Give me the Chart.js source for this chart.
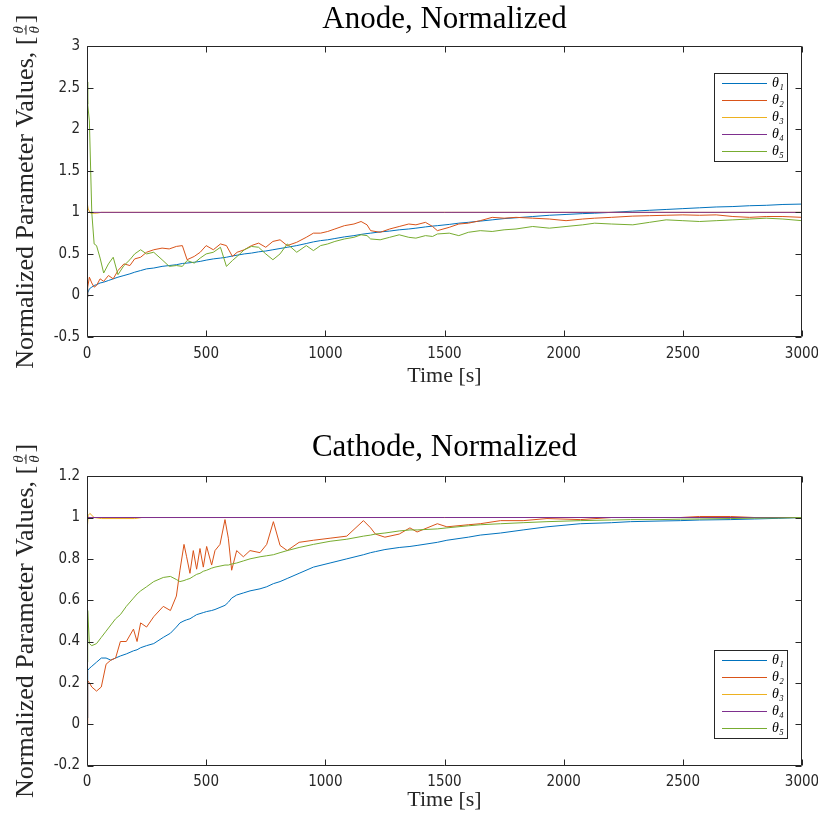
<!DOCTYPE html>
<html>
<head>
<meta charset="utf-8">
<title>Anode / Cathode, Normalized</title>
<script src="https://cdn.jsdelivr.net/npm/chart.js@4.4.1/dist/chart.umd.min.js"></script>
<style>
    body { margin: 0; background: #fff; }
    .panel { position: absolute; left: 0; width: 818px; height: 410px; }
    #anodePanel { top: 0; }
    #cathodePanel { top: 410px; }
</style>
</head>
<body>
<div class="panel" id="anodePanel"><canvas id="anodeChart" width="818" height="410"></canvas></div>
<div class="panel" id="cathodePanel"><canvas id="cathodeChart" width="818" height="410"></canvas></div>
<script>
// Series labels and colours
const thetaLabels = ['θ₁', 'θ₂', 'θ₃', 'θ₄', 'θ₅'];
const thetaColors = ['#0072BD', '#D95319', '#EDB120', '#7E2F8E', '#77AC30'];

// Tick values
const timeTicks = [0, 500, 1000, 1500, 2000, 2500, 3000];
const anodeYTicks = [-0.5, 0, 0.5, 1, 1.5, 2, 2.5, 3];
const cathodeYTicks = [-0.2, 0, 0.2, 0.4, 0.6, 0.8, 1, 1.2];

// Constant series share this time base
const flatTime = [0, 3000];

// Anode data
const anodeTime = [
    0, 3, 10, 20, 30, 40, 55, 70, 90, 110,
    130, 155, 180, 200, 225, 250, 280, 315, 345, 375,
    400, 420, 450, 475, 500, 530, 560, 585, 610, 630,
    660, 690, 720, 750, 780, 810, 840, 880, 920, 950,
    980, 1010, 1040, 1080, 1120, 1150, 1175, 1190, 1230, 1270,
    1310, 1350, 1380, 1420, 1450, 1470, 1520, 1560, 1600, 1650,
    1700, 1750, 1800, 1870, 1940, 2010, 2080, 2130, 2200, 2290,
    2360, 2430, 2500, 2570, 2640, 2710, 2780, 2850, 2920, 3000
];
const anodeTheta1 = [
    -0.02, 0.03, 0.08, 0.10, 0.12, 0.13, 0.15, 0.16, 0.18, 0.20,
    0.22, 0.24, 0.26, 0.28, 0.30, 0.32, 0.33, 0.35, 0.36, 0.37,
    0.385, 0.39, 0.40, 0.41, 0.425, 0.44, 0.45, 0.46, 0.475, 0.485,
    0.50, 0.51, 0.525, 0.535, 0.55, 0.565, 0.58, 0.60, 0.625, 0.645,
    0.66, 0.67, 0.685, 0.705, 0.72, 0.735, 0.745, 0.75, 0.765, 0.775,
    0.79, 0.80, 0.81, 0.825, 0.835, 0.84, 0.855, 0.87, 0.88, 0.895,
    0.91, 0.925, 0.935, 0.95, 0.965, 0.975, 0.985, 0.99, 1.00, 1.015,
    1.025, 1.035, 1.045, 1.055, 1.065, 1.07, 1.08, 1.085, 1.095, 1.10
];
const anodeTheta2 = [
    -0.02, 0.10, 0.22, 0.15, 0.10, 0.12, 0.20, 0.17, 0.24, 0.20,
    0.30, 0.38, 0.36, 0.44, 0.46, 0.52, 0.55, 0.57, 0.56, 0.59,
    0.60, 0.43, 0.47, 0.52, 0.60, 0.55, 0.62, 0.60, 0.47, 0.52,
    0.55, 0.60, 0.63, 0.58, 0.65, 0.67, 0.60, 0.64, 0.70, 0.75,
    0.75, 0.77, 0.80, 0.84, 0.86, 0.89, 0.85, 0.78, 0.76, 0.80,
    0.83, 0.86, 0.85, 0.88, 0.83, 0.78, 0.82, 0.86, 0.87, 0.90,
    0.94, 0.93, 0.94, 0.93, 0.92, 0.90, 0.92, 0.93, 0.94, 0.955,
    0.96, 0.965, 0.97, 0.965, 0.97, 0.95, 0.94, 0.95, 0.95, 0.94
];
const anodeTheta3Time = [0, 5, 15, 40, 60, 3000];
const anodeTheta3 = [1.13, 1.04, 0.99, 0.99, 1.0, 1.0];
const anodeTheta4 = [1, 1];
const anodeTheta5 = [
    2.57, 2.30, 2.10, 1.00, 0.62, 0.60, 0.45, 0.27, 0.38, 0.46,
    0.25, 0.36, 0.43, 0.50, 0.55, 0.50, 0.52, 0.43, 0.35, 0.36,
    0.35, 0.42, 0.39, 0.45, 0.50, 0.52, 0.58, 0.35, 0.42, 0.47,
    0.55, 0.59, 0.58, 0.50, 0.43, 0.50, 0.62, 0.52, 0.60, 0.54,
    0.60, 0.62, 0.65, 0.68, 0.70, 0.73, 0.72, 0.68, 0.67, 0.70,
    0.73, 0.70, 0.69, 0.72, 0.71, 0.74, 0.75, 0.72, 0.76, 0.78,
    0.77, 0.79, 0.80, 0.83, 0.81, 0.83, 0.85, 0.87, 0.86, 0.85,
    0.88, 0.91, 0.90, 0.89, 0.90, 0.91, 0.92, 0.93, 0.92, 0.90
];

// Cathode data
const cathodeTime = [
    0, 3, 10, 20, 40, 60, 80, 100, 120, 140,
    165, 195, 210, 225, 250, 280, 320, 350, 375, 390,
    407, 418, 432, 446, 460, 474, 488, 502, 523, 537,
    558, 579, 593, 607, 628, 656, 684, 726, 754, 782,
    810, 840, 890, 950, 1020, 1090, 1160, 1190, 1210, 1250,
    1310, 1355, 1385, 1470, 1510, 1600, 1650, 1735, 1830, 1930,
    2070, 2200, 2280, 2400, 2490, 2570, 2700, 2800, 2900, 3000
];
const cathodeTheta1 = [
    0.03, 0.26, 0.27, 0.28, 0.30, 0.32, 0.32, 0.31, 0.32, 0.33,
    0.34, 0.355, 0.36, 0.37, 0.38, 0.39, 0.42, 0.44, 0.47, 0.49,
    0.50, 0.505, 0.51, 0.52, 0.53, 0.535, 0.54, 0.545, 0.55, 0.555,
    0.565, 0.575, 0.59, 0.61, 0.625, 0.635, 0.645, 0.655, 0.665, 0.68,
    0.69, 0.705, 0.73, 0.76, 0.78, 0.80, 0.82, 0.83, 0.835, 0.845,
    0.855, 0.86, 0.865, 0.88, 0.89, 0.905, 0.915, 0.925, 0.94, 0.955,
    0.97, 0.975, 0.98, 0.983, 0.985, 0.988, 0.99, 0.993, 0.996, 1.00
];
const cathodeTheta2 = [
    0.00, 0.21, 0.20, 0.18, 0.16, 0.18, 0.29, 0.31, 0.32, 0.40,
    0.40, 0.46, 0.40, 0.49, 0.47, 0.52, 0.57, 0.55, 0.62, 0.745,
    0.87, 0.81, 0.73, 0.84, 0.75, 0.85, 0.76, 0.86, 0.77, 0.84,
    0.87, 0.99, 0.90, 0.745, 0.84, 0.81, 0.84, 0.83, 0.87, 0.98,
    0.865, 0.84, 0.88, 0.89, 0.90, 0.91, 0.985, 0.95, 0.92, 0.905,
    0.92, 0.95, 0.93, 0.97, 0.955, 0.965, 0.97, 0.985, 0.985, 0.995,
    0.99, 1.00, 1.00, 1.00, 1.00, 1.005, 1.005, 1.00, 1.00, 1.00
];
const cathodeTheta3Time = [0, 5, 12, 30, 60, 200, 230, 3000];
const cathodeTheta3 = [0.93, 1.01, 1.02, 1.0, 0.995, 0.995, 1.0, 1.0];
const cathodeTheta4 = [1, 1];
const cathodeTheta5 = [
    0.30, 0.55, 0.39, 0.38, 0.39, 0.42, 0.45, 0.48, 0.51, 0.53,
    0.57, 0.61, 0.63, 0.645, 0.665, 0.69, 0.71, 0.715, 0.70, 0.69,
    0.695, 0.70, 0.705, 0.715, 0.725, 0.73, 0.74, 0.745, 0.755, 0.76,
    0.765, 0.77, 0.77, 0.775, 0.78, 0.79, 0.80, 0.81, 0.815, 0.82,
    0.83, 0.84, 0.855, 0.87, 0.885, 0.895, 0.91, 0.915, 0.92, 0.925,
    0.935, 0.94, 0.94, 0.945, 0.95, 0.96, 0.965, 0.97, 0.975, 0.98,
    0.985, 0.988, 0.99, 0.99, 0.992, 0.993, 0.995, 0.997, 0.998, 1.00
];

const axisColor = '#262626';
const serif = '"Liberation Serif", "DejaVu Serif", serif';
const tickFont = '"Liberation Sans Narrow", "DejaVu Sans Condensed", "Liberation Sans", sans-serif';

function toPoints(times, values) {
    return times.map((t, i) => ({ x: t, y: values[i] }));
}

// Box round the plot with inward ticks on all four sides
const framePlugin = {
    id: 'frame',
    afterDatasetsDraw(chart) {
        const { ctx, chartArea: a, scales: { x, y } } = chart;
        const len = 6;
        const L = Math.round(a.left) + 0.5, R = Math.round(a.right) - 0.5;
        const T = Math.round(a.top) + 0.5, B = Math.round(a.bottom) - 0.5;
        ctx.save();
        ctx.strokeStyle = axisColor;
        ctx.lineWidth = 1;
        ctx.beginPath();
        ctx.rect(L, T, R - L, B - T);
        x.ticks.forEach(t => {
            const px = Math.round(x.getPixelForValue(t.value)) + 0.5;
            ctx.moveTo(px, B); ctx.lineTo(px, B - len);
            ctx.moveTo(px, T); ctx.lineTo(px, T + len);
        });
        y.ticks.forEach(t => {
            const py = Math.round(y.getPixelForValue(t.value)) + 0.5;
            ctx.moveTo(L, py); ctx.lineTo(L + len, py);
            ctx.moveTo(R, py); ctx.lineTo(R - len, py);
        });
        ctx.stroke();
        ctx.restore();
    }
};

// Rotated y-axis label with a stacked fraction
const yLabelPlugin = {
    id: 'yLabel',
    afterDraw(chart) {
        const { ctx, chartArea: a } = chart;
        const main = 'Normalized Parameter Values, ';
        const bigFont = '26px ' + serif;
        const smallFont = 'italic 15px ' + serif;
        ctx.save();
        ctx.font = bigFont;
        const wMain = ctx.measureText(main).width;
        const wBr = ctx.measureText('[').width;
        ctx.font = smallFont;
        const wFrac = ctx.measureText('θ').width + 4;
        const total = wMain + 2 * wBr + wFrac + 2;
        ctx.translate(26, (a.top + a.bottom) / 2);
        ctx.rotate(-Math.PI / 2);
        ctx.fillStyle = axisColor;
        ctx.textBaseline = 'middle';
        let x0 = -total / 2;
        ctx.font = bigFont;
        ctx.textAlign = 'left';
        ctx.fillText(main, x0, 0);
        x0 += wMain;
        ctx.fillText('[', x0, 0);
        x0 += wBr + 1;
        ctx.font = smallFont;
        ctx.textAlign = 'center';
        ctx.fillText('θ', x0 + wFrac / 2, -7);
        ctx.fillText('θ', x0 + wFrac / 2, 9);
        ctx.font = '11px ' + serif;
        ctx.fillText('ˆ', x0 + wFrac / 2 + 1, 3);
        ctx.fillRect(x0 + 1, -0.5, wFrac - 2, 1);
        x0 += wFrac + 1;
        ctx.font = bigFont;
        ctx.textAlign = 'left';
        ctx.fillText(']', x0, 0);
        ctx.restore();
    }
};

// Boxed legend inside the plot area
const legendPlugin = {
    id: 'thetaLegend',
    afterDraw(chart, args, opts) {
        const { ctx, chartArea: a } = chart;
        const w = 73, h = 88;
        const left = Math.round(a.right - 15 - w);
        const top = Math.round(opts.corner === 'top' ? a.top + 27 : a.bottom - 28 - h);
        ctx.save();
        ctx.fillStyle = '#fff';
        ctx.fillRect(left, top, w, h);
        ctx.strokeStyle = axisColor;
        ctx.lineWidth = 1;
        ctx.strokeRect(left + 0.5, top + 0.5, w, h);
        chart.data.datasets.forEach((ds, i) => {
            const yy = Math.round(top + 10 + i * 17.1) + 0.5;
            ctx.strokeStyle = ds.borderColor;
            ctx.beginPath();
            ctx.moveTo(left + 8, yy);
            ctx.lineTo(left + 53, yy);
            ctx.stroke();
            ctx.fillStyle = '#000';
            ctx.textBaseline = 'middle';
            ctx.textAlign = 'left';
            ctx.font = 'italic 14px ' + serif;
            ctx.fillText(ds.label, left + 58, yy);
        });
        ctx.restore();
    }
};

function makeChart(canvasId, opts) {
    const series = [
        [opts.time, opts.theta1],
        [opts.time, opts.theta2],
        [opts.theta3Time, opts.theta3],
        [flatTime, opts.theta4],
        [opts.time, opts.theta5]
    ];
    const datasets = series.map((s, i) => ({
        label: thetaLabels[i],
        data: toPoints(s[0], s[1]),
        borderColor: thetaColors[i],
        borderWidth: 1,
        pointRadius: 0,
        fill: false,
        order: 5 - i
    }));

    return new Chart(document.getElementById(canvasId), {
        type: 'line',
        data: { datasets },
        plugins: [framePlugin, yLabelPlugin, legendPlugin],
        options: {
            responsive: false,
            animation: false,
            layout: { padding: { left: 0, right: 16, top: 0, bottom: 0 } },
            plugins: {
                legend: { display: false },
                tooltip: { enabled: false },
                title: {
                    display: true,
                    text: opts.title,
                    fullSize: false,
                    color: '#000',
                    font: { family: serif, size: 31, weight: 'normal' },
                    padding: opts.titlePad
                },
                thetaLegend: { corner: opts.legendCorner }
            },
            scales: {
                x: {
                    type: 'linear',
                    min: 0,
                    max: 3000,
                    grid: { display: false, drawTicks: false },
                    border: { display: false },
                    afterBuildTicks: s => { s.ticks = timeTicks.map(v => ({ value: v })); },
                    afterFit: s => {
                        s.height = opts.xHeight;
                        s.paddingLeft = 0;
                        s.paddingRight = 0;
                    },
                    ticks: {
                        color: axisColor,
                        padding: 8,
                        maxRotation: 0,
                        font: { family: tickFont, size: 15 },
                        callback: v => String(v)
                    },
                    title: {
                        display: true,
                        text: 'Time [s]',
                        color: axisColor,
                        font: { family: serif, size: 22 },
                        padding: { top: 0, bottom: opts.xTitleBottom }
                    }
                },
                y: {
                    min: opts.yTicks[0],
                    max: opts.yTicks[opts.yTicks.length - 1],
                    grid: { display: false, drawTicks: false },
                    border: { display: false },
                    afterBuildTicks: s => { s.ticks = opts.yTicks.map(v => ({ value: v })); },
                    afterFit: s => {
                        s.width = 87;
                        s.paddingTop = 0;
                        s.paddingBottom = 0;
                    },
                    ticks: {
                        color: axisColor,
                        padding: 7,
                        font: { family: tickFont, size: 15 },
                        callback: v => String(v)
                    }
                }
            }
        }
    });
}

makeChart('anodeChart', {
    title: 'Anode, Normalized',
    time: anodeTime,
    theta1: anodeTheta1,
    theta2: anodeTheta2,
    theta3Time: anodeTheta3Time,
    theta3: anodeTheta3,
    theta4: anodeTheta4,
    theta5: anodeTheta5,
    yTicks: anodeYTicks,
    titlePad: { top: 1, bottom: 8 },
    xHeight: 73,
    xTitleBottom: 21,
    legendCorner: 'top'
});

makeChart('cathodeChart', {
    title: 'Cathode, Normalized',
    time: cathodeTime,
    theta1: cathodeTheta1,
    theta2: cathodeTheta2,
    theta3Time: cathodeTheta3Time,
    theta3: cathodeTheta3,
    theta4: cathodeTheta4,
    theta5: cathodeTheta5,
    yTicks: cathodeYTicks,
    titlePad: { top: 19, bottom: 10 },
    xHeight: 54.5,
    xTitleBottom: 7,
    legendCorner: 'bottom'
});
</script>
</body>
</html>
